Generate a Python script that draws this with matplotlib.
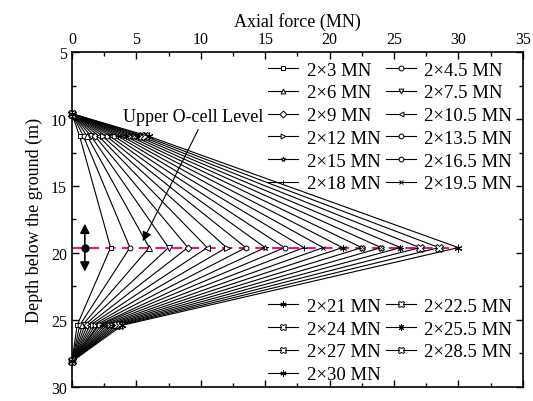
import matplotlib
matplotlib.use("Agg")
import matplotlib.pyplot as plt
from matplotlib.ticker import MultipleLocator

plt.rcParams['font.family'] = ['Liberation Serif', 'DejaVu Serif']

# Data
loads = [3, 4.5, 6, 7.5, 9, 10.5, 12, 13.5, 15, 16.5, 18, 19.5, 21, 22.5, 24, 25.5, 27, 28.5, 30]
labels = ["2×3 MN", "2×4.5 MN", "2×6 MN", "2×7.5 MN", "2×9 MN", "2×10.5 MN",
          "2×12 MN", "2×13.5 MN", "2×15 MN", "2×16.5 MN", "2×18 MN", "2×19.5 MN",
          "2×21 MN", "2×22.5 MN", "2×24 MN", "2×25.5 MN", "2×27 MN", "2×28.5 MN", "2×30 MN"]
depths = [9.6, 11.3, 19.6, 25.4, 28.1]
top_force = [0.6, 0.9, 1.2, 1.5, 1.8, 2.1, 2.4, 2.7, 3.0, 3.3, 3.6, 3.9, 4.2, 4.5, 4.8, 5.1, 5.4, 5.7, 6.0]
bot_force = [0.4, 0.6, 0.8, 1.0, 1.2, 1.4, 1.6, 1.8, 2.0, 2.1, 2.3, 2.5, 2.7, 2.9, 3.1, 3.3, 3.5, 3.7, 3.9]
markers = ['s', 'o', '^', 'v', 'D', '<', '>', 'o', '*', 'o', '+', 'x',
           (6, 2, 0), 'X', 'X', (8, 2, 0), 'X', 'X', (6, 2, 0)]
msizes = [3.5, 3.5, 4, 4, 3.5, 4, 4, 3.5, 4, 3.5, 4, 3.5, 5, 4, 4, 5, 5.5, 5.5, 5.5]

fig = plt.figure(figsize=(5.33, 4.02), dpi=100)
ax = fig.add_axes([0.135, 0.035, 0.846, 0.833])

handles = []
for P, tf, bf, lab, m, ms in zip(loads, top_force, bot_force, labels, markers, msizes):
    xs = [0, tf, P, bf, 0]
    h, = ax.plot(xs, depths, color='black', lw=0.8, marker=m, ms=ms,
                 mfc='white', mec='black', mew=0.7, zorder=3, clip_on=False, label=lab)
    handles.append(h)

# Upper O-cell level dashed line
ax.plot([0, 30], [19.6, 19.6], color='#e8197c', lw=1.5, dashes=(5, 3), zorder=2.5)

# double arrow
ax.plot([1.0], [19.6], marker='o', color='black', ms=5, zorder=4)
ax.annotate('', xy=(1.0, 17.6), xytext=(1.0, 19.6),
            arrowprops=dict(arrowstyle='-|>', color='black', lw=1.2, mutation_scale=14))
ax.annotate('', xy=(1.0, 21.6), xytext=(1.0, 19.6),
            arrowprops=dict(arrowstyle='-|>', color='black', lw=1.2, mutation_scale=14))

# annotation
ax.text(9.4, 9.8, 'Upper O-cell Level', fontsize=13, ha='center', va='center',
        bbox=dict(facecolor='white', edgecolor='none', pad=0.3), zorder=5)
ax.annotate('', xy=(5.4, 19.3), xytext=(9.9, 10.6),
            arrowprops=dict(arrowstyle='-|>', color='black', lw=0.8, mutation_scale=14),
            zorder=5)

ax.set_xlim(0, 35)
ax.set_ylim(30, 5)
ax.xaxis.set_major_locator(MultipleLocator(5))
ax.xaxis.set_minor_locator(MultipleLocator(2.5))
ax.yaxis.set_major_locator(MultipleLocator(5))
ax.yaxis.set_minor_locator(MultipleLocator(2.5))
ax.xaxis.tick_top()
ax.xaxis.set_label_position('top')
ax.tick_params(which='both', direction='in', top=True, bottom=True, left=True, right=True,
               labelbottom=False, labeltop=True, labelsize=11.5, width=1)
ax.tick_params(which='major', length=5)
ax.tick_params(which='minor', length=3)
for s in ax.spines.values():
    s.set_linewidth(1.2)
ax.set_xlabel('Axial force (MN)', fontsize=13, labelpad=4)
ax.set_ylabel('Depth below the ground (m)', fontsize=13, labelpad=6)


def row_major(hs, ncol=2):
    # reorder so matplotlib's column-major filling reads row by row
    return [hs[i] for c in range(ncol) for i in range(c, len(hs), ncol)]


leg_kw = dict(frameon=False, fontsize=13.5, handlelength=1.6, handletextpad=0.45,
              columnspacing=0.3, labelspacing=0.3, borderpad=0, borderaxespad=0,
              ncol=2, loc='upper left')
leg1 = ax.legend(handles=row_major(handles[:12]), bbox_to_anchor=(0.435, 0.972), **leg_kw)
for h in leg1.legend_handles:
    h.set_markersize(3.5)
ax.add_artist(leg1)
leg2 = ax.legend(handles=row_major(handles[12:]), bbox_to_anchor=(0.435, 0.266), **leg_kw)
for h in leg2.legend_handles:
    h.set_markersize(4.5)

fig.savefig('out.png', dpi=100)
